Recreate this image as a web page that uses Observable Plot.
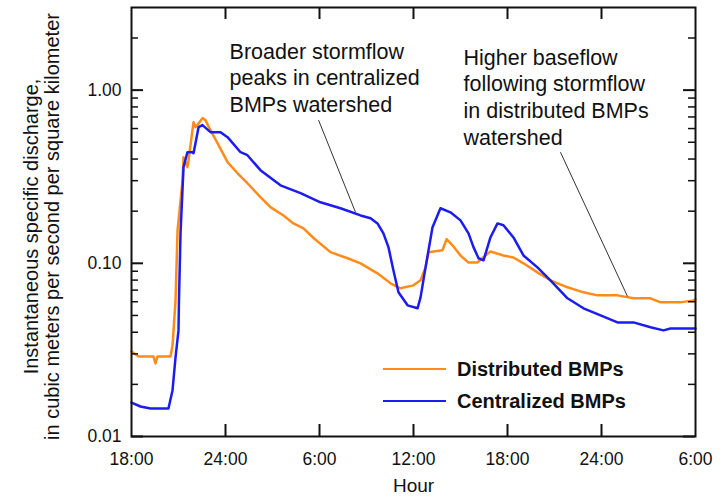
<!DOCTYPE html>
<html><head><meta charset="utf-8">
<script src="https://cdn.jsdelivr.net/npm/d3@7"></script>
<script src="https://cdn.jsdelivr.net/npm/@observablehq/plot@0.6"></script>
<style>
body{margin:0;background:#fff;}
#wrap{position:relative;width:728px;height:501px;}
.leg{position:absolute;left:383px;height:20px;line-height:20px;display:flex;align-items:center;font-family:"Liberation Sans",Arial,sans-serif;font-weight:bold;font-size:20px;color:#111;white-space:nowrap;}
.leg .sw{width:63px;height:2.5px;margin-right:11px;}
</style></head><body><div id="wrap"></div>
<script>
// Hours after 18:00 on day 1
const distHours = [0,0.45,1.4,1.53,1.66,2.49,2.62,2.81,2.94,3.26,3.32,3.57,3.64,3.96,4.09,4.53,4.72,5.04,5.49,6.13,6.77,7.40,8.23,8.87,9.70,10.34,10.98,11.62,12.70,13.79,14.62,15.70,16.53,17.17,18.0,18.45,18.77,18.96,19.85,20.11,20.49,21.0,21.51,22.08,22.6,22.91,23.74,24.38,25.02,25.91,26.74,27.83,28.85,29.74,31.02,32.04,33.13,33.77,35.04,35.87,36];
const distValues = [0.031,0.029,0.029,0.0264,0.029,0.029,0.0336,0.061,0.155,0.302,0.41,0.359,0.394,0.653,0.611,0.689,0.671,0.587,0.494,0.384,0.331,0.29,0.241,0.211,0.189,0.17,0.159,0.14,0.116,0.107,0.1,0.0875,0.0766,0.0717,0.0746,0.0798,0.0948,0.116,0.119,0.138,0.127,0.111,0.101,0.101,0.111,0.117,0.111,0.108,0.1,0.0887,0.0798,0.0727,0.068,0.0653,0.0653,0.0628,0.0628,0.0595,0.0595,0.0611,0.062];
const centHours = [0,0.57,1.21,2.36,2.62,2.81,3.0,3.03,3.13,3.32,3.57,3.89,3.96,4.28,4.53,5.04,5.68,6.13,6.96,7.40,8.23,9.51,10.79,12.06,13.34,14.62,15.26,15.70,16.08,16.40,16.72,17.04,17.62,18.26,18.45,18.77,19.21,19.72,20.36,21.0,21.51,21.83,22.15,22.47,22.91,23.36,23.74,24.38,25.02,25.91,26.74,27.83,28.85,29.94,31.02,32.04,33.13,33.96,34.40,36];
const centValues = [0.0157,0.0149,0.0145,0.0145,0.0185,0.0286,0.041,0.061,0.149,0.359,0.438,0.438,0.432,0.611,0.628,0.572,0.572,0.535,0.438,0.421,0.345,0.282,0.254,0.225,0.208,0.189,0.182,0.17,0.149,0.124,0.091,0.068,0.0572,0.055,0.0636,0.0948,0.161,0.208,0.197,0.177,0.149,0.124,0.107,0.104,0.141,0.17,0.166,0.141,0.111,0.0948,0.0798,0.0628,0.055,0.05,0.0456,0.0456,0.0427,0.041,0.042,0.042];

const xTicks = [0,6,12,18,24,30,36];
const xTickLabels = ["18:00","24:00","6:00","12:00","18:00","24:00","6:00"];
const yMajorTicks = [0.01,0.1,1];
const yMinorTicks = [0.02,0.03,0.04,0.05,0.06,0.07,0.08,0.09,0.2,0.3,0.4,0.5,0.6,0.7,0.8,0.9,2];
const seriesNames = ["Distributed BMPs","Centralized BMPs"];
const seriesColors = ["#ff8c1a","#1c1cf0"];

const annoText = ["Broader stormflow\npeaks in centralized\nBMPs watershed","Higher baseflow\nfollowing stormflow\nin distributed BMPs\nwatershed"];
const annoHour = [6.26,21.19];
const annoValue = [1.95,1.8];
const leaderHour1 = [11.94,27.38];
const leaderValue1 = [0.671,0.438];
const leaderHour2 = [14.30,31.66];
const leaderValue2 = [0.197,0.0644];

const yLabel1 = "Instantaneous specific discharge,";
const yLabel2 = "in cubic meters per second per square kilometer";
const xLabel = "Hour";

const dist = distHours.map((h,i)=>({h, v:distValues[i]}));
const cent = centHours.map((h,i)=>({h, v:centValues[i]}));
const annos = annoText.map((t,i)=>({t, h:annoHour[i], v:annoValue[i]}));
const leaders = leaderHour1.map((h,i)=>({h1:h, v1:leaderValue1[i], h2:leaderHour2[i], v2:leaderValue2[i]}));
const inner = xTicks.slice(1,-1);

const W=728,H=501,ML=131,MR=33,MT=7,MB=65;
const PW=W-ML-MR, PH=H-MT-MB;
const sans = "'Liberation Sans',Arial,sans-serif";

const chart = Plot.plot({
  width:W, height:H, marginLeft:ML, marginRight:MR, marginTop:MT, marginBottom:MB,
  style:{fontFamily:sans, color:"#111", background:"#fff"},
  x:{domain:[0,36]},
  y:{type:"log", domain:[0.01,3]},
  marks:[
    Plot.line(dist,{x:"h",y:"v",stroke:seriesColors[0],strokeWidth:2.5,strokeLinejoin:"round"}),
    Plot.line(cent,{x:"h",y:"v",stroke:seriesColors[1],strokeWidth:2.5,strokeLinejoin:"round"}),
    Plot.link(leaders,{x1:"h1",y1:"v1",x2:"h2",y2:"v2",stroke:"#333",strokeWidth:1}),
    Plot.text(annos,{x:"h",y:"v",text:"t",textAnchor:"start",lineAnchor:"top",lineHeight:1.24,fontSize:21.5,fontFamily:sans,fill:"#111"}),
    Plot.tickY(yMajorTicks,{y:d=>d,insetRight:PW-12,strokeWidth:2}),
    Plot.tickY(yMinorTicks,{y:d=>d,insetRight:PW-7,strokeWidth:1.5}),
    Plot.tickY(yMajorTicks,{y:d=>d,insetLeft:PW-12,strokeWidth:2}),
    Plot.tickY(yMinorTicks,{y:d=>d,insetLeft:PW-7,strokeWidth:1.5}),
    Plot.tickX(inner,{x:d=>d,insetTop:PH-12,strokeWidth:2}),
    Plot.tickX(inner,{x:d=>d,insetBottom:PH-12,strokeWidth:2}),
    Plot.frame({strokeWidth:2}),
    Plot.axisY({ticks:yMajorTicks,tickFormat:d3.format(".2f"),tickSize:0,tickPadding:10,fontSize:17.5,fontFamily:sans,label:null}),
    Plot.axisX({ticks:xTicks,tickFormat:d=>xTickLabels[xTicks.indexOf(d)],tickSize:0,tickPadding:16,fontSize:17.5,fontFamily:sans,label:null}),
    Plot.text([xLabel],{frameAnchor:"bottom",textAnchor:"middle",dy:55,fontSize:19,fontFamily:sans,fill:"#111"}),
    Plot.text([yLabel1],{frameAnchor:"left",textAnchor:"middle",rotate:-90,dx:-100,dy:4.5,fontSize:20,fontFamily:sans,fill:"#111"}),
    Plot.text([yLabel2],{frameAnchor:"left",textAnchor:"middle",rotate:-90,dx:-79,dy:4.5,fontSize:20,fontFamily:sans,fill:"#111"})
  ]
});
const wrap = document.getElementById("wrap");
wrap.appendChild(chart);
const tops = [359,391];
seriesNames.forEach((n,i)=>{
  const row = document.createElement("div");
  row.className="leg"; row.style.top = tops[i]+"px";
  const sw = document.createElement("div"); sw.className="sw"; sw.style.background = seriesColors[i];
  const sp = document.createElement("span"); sp.textContent = n;
  row.appendChild(sw); row.appendChild(sp); wrap.appendChild(row);
});
</script></body></html>
